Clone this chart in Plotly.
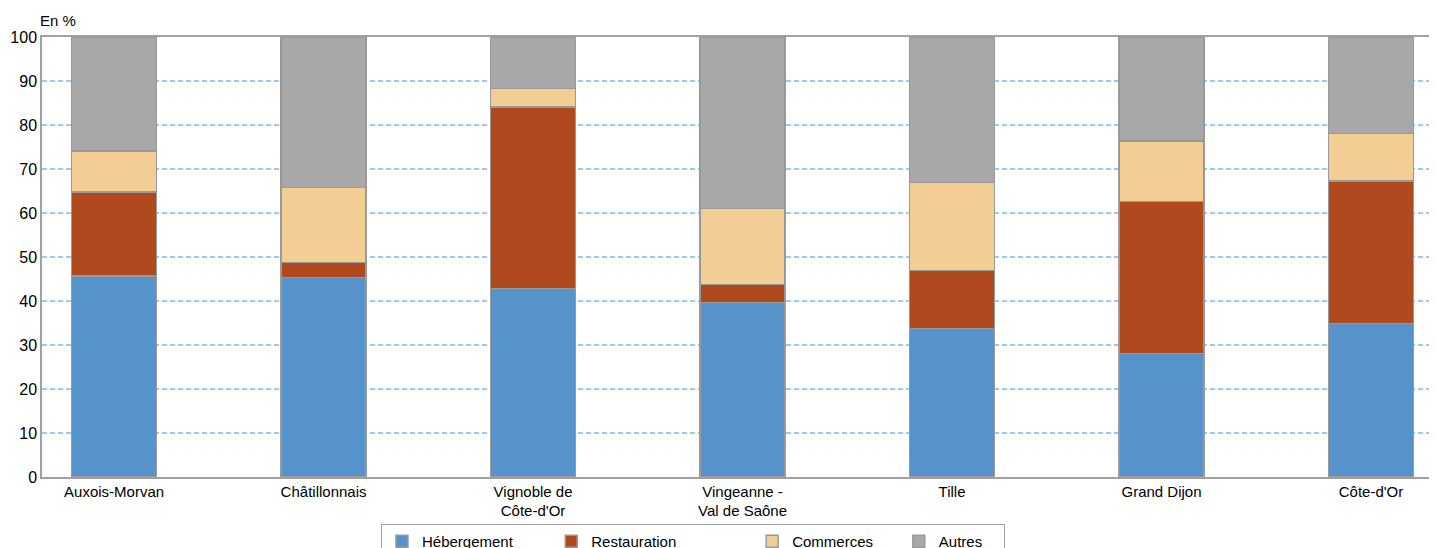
import plotly.graph_objects as go

categories = ["Auxois-Morvan", "Châtillonnais", "Vignoble de<br>Côte-d'Or",
              "Vingeanne -<br>Val de Saône", "Tille", "Grand Dijon", "Côte-d'Or"]
hebergement = [45.7, 45.4, 42.9, 39.7, 33.8, 28.1, 34.9]
restauration = [19.1, 3.3, 41.2, 4.1, 13.2, 34.5, 32.4]
commerces = [9.3, 17.1, 4.2, 17.2, 20.0, 13.8, 10.8]
autres = [25.9, 34.2, 11.7, 39.0, 33.0, 23.6, 21.9]
y_ticks = [0, 10, 20, 30, 40, 50, 60, 70, 80, 90, 100]

NB = "\u00a0"
series = [
    ("Hébergement" + NB * 8, hebergement, "#5793CB"),
    ("Restauration" + NB * 17, restauration, "#B04A1E"),
    ("Commerces" + NB * 5, commerces, "#F2CD94"),
    ("Autres" + NB * 4, autres, "#A8A8A8"),
]

fig = go.Figure()
xs = list(range(len(categories)))
for name, vals, col in series:
    fig.add_trace(go.Bar(
        x=xs, y=vals, name=name, width=0.406,
        marker=dict(color=col, line=dict(color="#999999", width=1.4)),
    ))

font = "Liberation Sans, Arial, sans-serif"
fig.update_layout(
    barmode="stack",
    width=1429, height=575,
    margin=dict(l=34, r=0, t=29, b=106),
    plot_bgcolor="white", paper_bgcolor="white",
    font=dict(family=font, size=15, color="#000"),
    showlegend=True,
    legend=dict(orientation="h", x=0.243, xanchor="left", y=-0.1068, yanchor="top",
                bordercolor="#A0A0A0", borderwidth=1, font=dict(size=15),
                itemwidth=30, traceorder="normal", tracegroupgap=0),
    xaxis=dict(tickmode="array", tickvals=xs, ticktext=categories,
               range=[-0.344, 6.315], showline=True, linecolor="#A0A0A0",
               linewidth=1.5, mirror=True, ticks="", showgrid=False,
               tickfont=dict(size=15)),
    yaxis=dict(range=[0, 100], tickvals=y_ticks, showline=True, linecolor="#A0A0A0",
               linewidth=1.5, showgrid=True, gridcolor="#9CCBEC", griddash="5px,3px",
               gridwidth=1.5, ticks="", tickfont=dict(size=16), zeroline=False),
    annotations=[dict(text="En %", xref="paper", yref="paper", x=0, y=1,
                      xshift=-4, yshift=6, xanchor="left", yanchor="bottom",
                      showarrow=False, font=dict(size=15))],
)
fig.write_html("out.html")
